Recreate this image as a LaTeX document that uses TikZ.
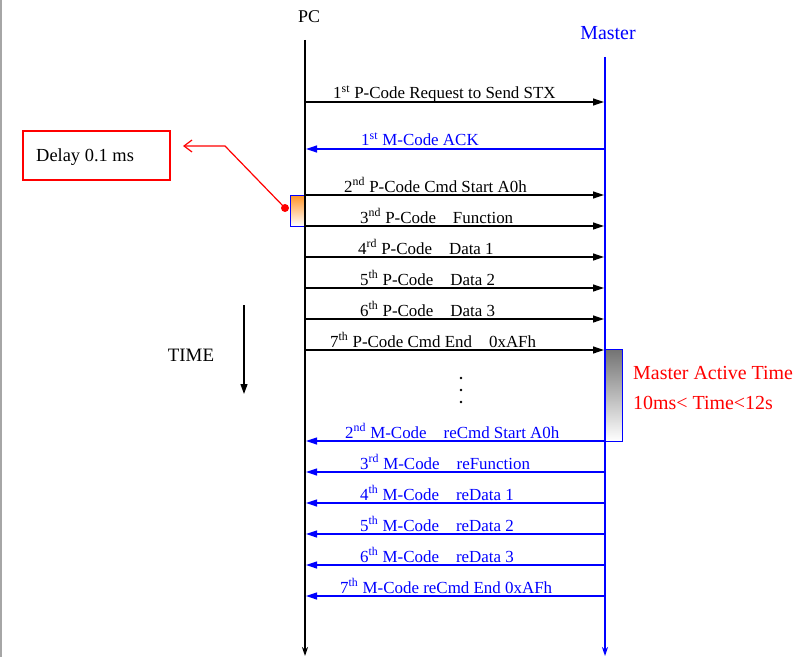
\documentclass[tikz,border=0pt]{standalone}
\usepackage{fontspec}
\setmainfont{Liberation Serif}
\usetikzlibrary{arrows.meta}
\tikzset{
  lifeline/.style={line width=2.6bp},
  msg/.style={line width=1.2bp,-{Triangle[length=11bp,width=7bp]}},
  msglabel/.style={font=\fontsize{17}{20}\selectfont,anchor=base west,inner sep=0pt},
  redtext/.style={font=\fontsize{20}{24}\selectfont,text=red,anchor=base west,inner sep=0pt}
}
\begin{document}
\begin{tikzpicture}[x=1bp,y=-1bp]
    \useasboundingbox (0,0) rectangle (805,657);
    \draw[gray!70,line width=1.2bp] (1,0)--(1,657);
    % lifelines
    \node[font=\fontsize{18}{21}\selectfont] (pc) at (309,17) {PC};
    \node[font=\fontsize{20}{24}\selectfont,text=blue] (master) at (608,33) {Master};
    \coordinate (pctop) at (305,40); \coordinate (pcend) at (305,656);
    \coordinate (mstop) at (605,57); \coordinate (msend) at (605,656);
    \shade[top color=orange!85,bottom color=white,draw=blue,line width=1bp] (290,195) rectangle (305,226);
    \shade[top color=black!55,bottom color=white,draw=blue,line width=1bp] (605,349) rectangle (622,441);
    \draw[lifeline,-{Stealth[length=9bp,width=6bp]}] (pctop)--(pcend);
    \draw[lifeline,blue,-{Stealth[length=9bp,width=6bp]}] (mstop)--(msend);
    % PC -> Master
    \foreach \y/\x/\txt [count=\i] in {
        102/333/1\textsuperscript{st} P-Code Request to Send STX,
        195/344/2\textsuperscript{nd} P-Code Cmd Start A0h,
        226/360/3\textsuperscript{nd} P-Code\quad Function,
        257/358/4\textsuperscript{rd} P-Code\quad Data 1,
        288/360/5\textsuperscript{th} P-Code\quad Data 2,
        319/360/6\textsuperscript{th} P-Code\quad Data 3,
        350/330/7\textsuperscript{th} P-Code Cmd End\quad 0xAFh} {
      \coordinate (p\i) at (305,\y); \coordinate (q\i) at (604,\y);
      \draw[msg] (p\i)--(q\i);
      \node[msglabel] (plab\i) at (\x,\y-3) {\txt};
    }
    % Master -> PC
    \foreach \y/\x/\txt [count=\i] in {
        149/361/1\textsuperscript{st} M-Code ACK,
        441/345/2\textsuperscript{nd} M-Code\quad reCmd Start A0h,
        472/360/3\textsuperscript{rd} M-Code\quad reFunction,
        503/360/4\textsuperscript{th} M-Code\quad reData 1,
        534/360/5\textsuperscript{th} M-Code\quad reData 2,
        565/360/6\textsuperscript{th} M-Code\quad reData 3,
        596/340/7\textsuperscript{th} M-Code reCmd End 0xAFh} {
      \coordinate (r\i) at (605,\y); \coordinate (s\i) at (306,\y);
      \draw[msg,blue] (r\i)--(s\i);
      \node[msglabel,text=blue] (mlab\i) at (\x,\y-3) {\txt};
    }
    \foreach \y [count=\i] in {378,390,402} \fill (461,\y) circle (1.4bp) coordinate (dot\i);
    % time axis
    \node[font=\fontsize{19}{22}\selectfont] (time) at (191,355) {TIME};
    \coordinate (ttop) at (244,305); \coordinate (tend) at (244,394);
    \draw[line width=1.2bp,-{Triangle[length=10bp,width=7bp]}] (ttop)--(tend);
    % delay note
    \draw[red,line width=1.2bp] (23,131) rectangle (170,180);
    \node[font=\fontsize{18.5}{22}\selectfont,anchor=base west,inner sep=0pt] (delay) at (36,161) {Delay 0.1 ms};
    \fill[red] (285,208) circle (4bp) coordinate (dl);
    \coordinate (bend) at (225,146); \coordinate (tip) at (183,146);
    \draw[red,line width=1.2bp,-{Straight Barb[length=8bp,width=12bp]}] (dl)--(bend)--(tip);
    % active time
    \node[redtext] (act1) at (633,379) {Master Active Time};
    \node[redtext] (act2) at (633,409) {10ms< Time<12s};
\end{tikzpicture}
\end{document}
